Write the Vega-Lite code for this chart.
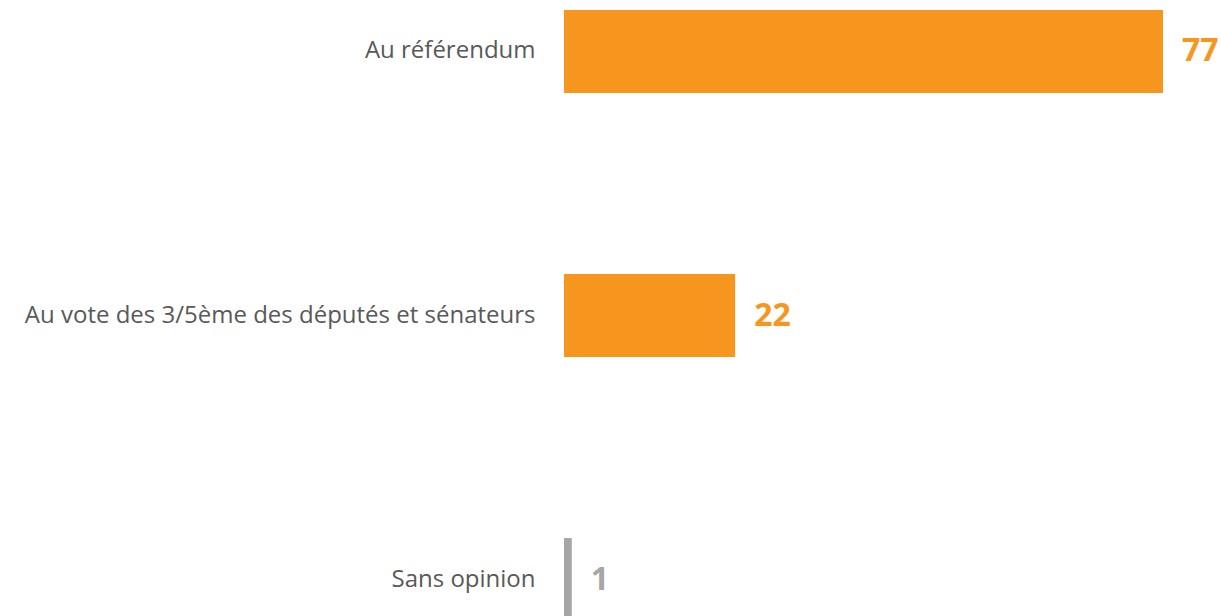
{
  "$schema": "https://vega.github.io/schema/vega-lite/v6.json",
  "autosize": {"type": "none"},
  "padding": {"left": 564, "top": 0, "right": 0, "bottom": 0},
  "width": 657,
  "height": 616,
  "background": "white",
  "config": {"view": {"stroke": null}, "font": "Open Sans"},
  "data": {
    "values": [
      {"categorie": "Au référendum", "valeur": 77, "groupe": "oui"},
      {"categorie": "Au vote des 3/5ème des députés et sénateurs", "valeur": 22, "groupe": "oui"},
      {"categorie": "Sans opinion", "valeur": 1, "groupe": "nsp"}
    ]
  },
  "encoding": {
    "y": {
      "field": "categorie",
      "type": "nominal",
      "sort": null,
      "scale": {"range": [10, 621], "paddingInner": 0.686, "paddingOuter": 0},
      "axis": {
        "title": null,
        "domain": false,
        "ticks": false,
        "labelPadding": 29,
        "labelFontSize": 24,
        "labelColor": "#595959",
        "labelFont": "Open Sans",
        "labelLimit": 600
      }
    },
    "x": {
      "field": "valeur",
      "type": "quantitative",
      "scale": {"domain": [0, 77], "range": [0, 599], "nice": false},
      "axis": null
    }
  },
  "layer": [
    {
      "mark": {"type": "bar"},
      "encoding": {
        "color": {
          "field": "groupe",
          "type": "nominal",
          "scale": {"domain": ["oui", "nsp"], "range": ["#F7961E", "#A6A6A6"]},
          "legend": null
        }
      }
    },
    {
      "mark": {"type": "text", "align": "left", "baseline": "middle", "dx": 19, "fontSize": 32, "fontWeight": "bold", "font": "Open Sans"},
      "encoding": {
        "text": {"field": "valeur", "type": "quantitative"},
        "color": {
          "field": "groupe",
          "type": "nominal",
          "scale": {"domain": ["oui", "nsp"], "range": ["#F7961E", "#A6A6A6"]},
          "legend": null
        }
      }
    }
  ]
}
